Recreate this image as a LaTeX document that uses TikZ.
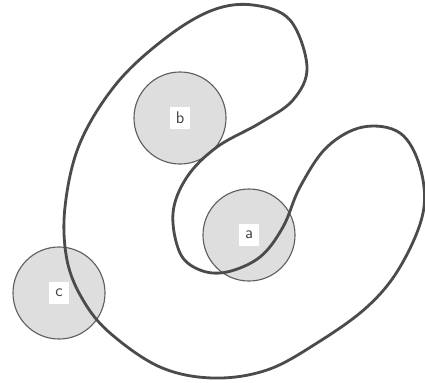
\documentclass[tikz,border=0pt]{standalone}
\usepackage{tikz}
\usetikzlibrary{positioning}
\definecolor{SetGray}{RGB}{222,222,222}
\definecolor{RimGray}{RGB}{95,95,95}
\definecolor{LoopGray}{RGB}{75,75,75}

\begin{document}
\begin{tikzpicture}[x=0.025cm, y=-0.025cm,
      spot/.style={circle, fill=SetGray, draw=RimGray, line width=0.8pt,
                   minimum size=2.3cm, inner sep=0pt},
      tag/.style={rectangle, fill=white, minimum width=0.5cm, minimum height=0.55cm,
                  inner sep=0pt, font=\sffamily\large, text=black!75}
    ]
    \useasboundingbox (0,0) rectangle (425,382);

    % the three discs
    \node[spot] (b) at (180,118) {};
    \node[spot] (a) at (249,235) {};
    \node[spot] (c) at (59,293) {};
    \node[tag] (tb) at (b) {b};
    \node[tag] (ta) at (a) {a};
    \node[tag] (tc) at (c) {c};

    % the closed loop
    \draw[LoopGray, line width=2pt] plot[smooth cycle, tension=0.6] coordinates {
      (307,67) (293,100) (260,123) (217,147) (187,177) (173,213) (180,253)
      (200,270) (227,272) (260,257) (283,227) (300,187) (327,147) (363,127)
      (400,133) (420,167) (423,213) (400,267) (367,307) (317,343) (267,370)
      (213,378) (160,367) (110,333) (83,300) (67,260) (65,207) (80,143)
      (117,83) (167,37) (213,10) (253,5) (290,20)};
\end{tikzpicture}
\end{document}
